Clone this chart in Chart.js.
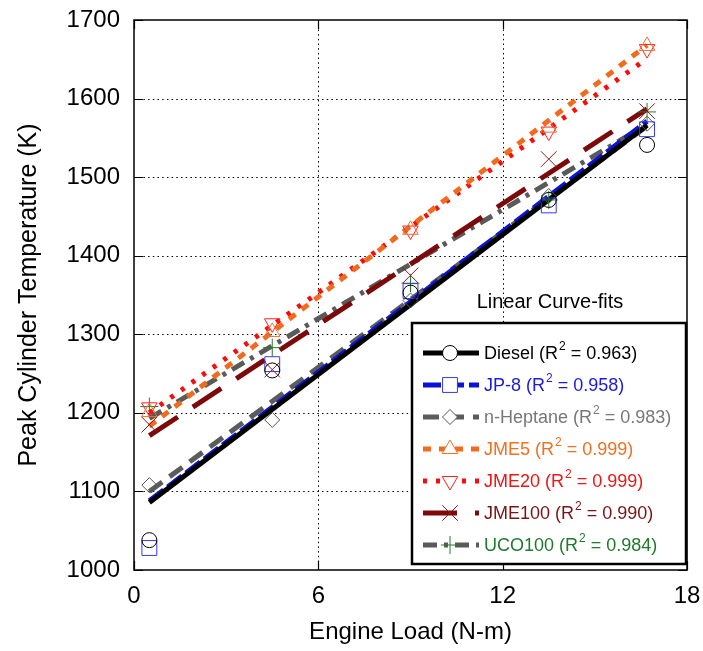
<!DOCTYPE html>
<html>
<head>
<meta charset="utf-8">
<script src="https://cdn.jsdelivr.net/npm/chart.js@4.4.1/dist/chart.umd.min.js"></script>
<style>
  html, body { margin: 0; padding: 0; background: #fff; }
  #wrap { width: 703px; height: 651px; }
</style>
</head>
<body>
<div id="wrap"><canvas id="tempChart" width="703" height="651"></canvas></div>
<script>
// engine load (N-m) where each fuel was measured
const loads = [0.5, 4.5, 9, 13.5, 16.7];

// peak cylinder temperature (K) per fuel
const diesel  = [1038, 1254, 1353, 1471, 1541];
const jp8     = [1028, 1262, 1355, 1464, 1561];
const heptane = [1108, 1191, 1343, 1476, 1568];
const jme5    = [1201, 1303, 1433, 1563, 1667];
const jme20   = [1207, 1314, 1432, 1558, 1663];
const jme100  = [1185, 1255, 1375, 1523, 1584];
const uco100  = [1208, 1283, 1365, 1471, 1583];

// linear curve-fit end points
const fitLoads   = [0.5, 16.7];
const dieselFit  = [1086, 1566];
const jp8Fit     = [1088, 1571];
const heptaneFit = [1100, 1565];
const jme5Fit    = [1183, 1668];
const jme20Fit   = [1200, 1651];
const jme100Fit  = [1171, 1587];
const uco100Fit  = [1193, 1567];

const fuelNames = ["Diesel", "JP-8", "n-Heptane", "JME5", "JME20", "JME100", "UCO100"];
const rSquared  = ["0.963", "0.958", "0.983", "0.999", "0.999", "0.990", "0.984"];

const yTicks = [1000, 1100, 1200, 1300, 1400, 1500, 1600, 1700];
const xTicks = [0, 6, 12, 18];

const FONT = "'Liberation Sans', Arial, Helvetica, sans-serif";

const series = [
    { pts: diesel,  fit: dieselFit,  line: "#000000", text: "#000000", mark: "#000000", style: "circle",   radius: 7.5, rot: 0,   dash: [],             width: 5 },
    { pts: jp8,     fit: jp8Fit,     line: "#0a14d8", text: "#1a1ad8", mark: "#3a3ae0", style: "rect",     radius: 10.5, rot: 0,  dash: [18, 5],        width: 5 },
    { pts: heptane, fit: heptaneFit, line: "#5c5c5c", text: "#777777", mark: "#555555", style: "rectRot",  radius: 7.5, rot: 0,   dash: [16, 9],        width: 5 },
    { pts: jme5,    fit: jme5Fit,    line: "#f26b1d", text: "#f07020", mark: "#f07030", style: "triangle", radius: 9,   rot: 0,   dash: [8, 8],         width: 5 },
    { pts: jme20,   fit: jme20Fit,   line: "#ff0a0a", text: "#ee1515", mark: "#ff2020", style: "triangle", radius: 9,   rot: 180, dash: [4, 9],         width: 5 },
    { pts: jme100,  fit: jme100Fit,  line: "#7c0a0a", text: "#7a1414", mark: "#8b1a1a", style: "crossRot", radius: 11,  rot: 0,   dash: [34, 18],       width: 5 },
    { pts: uco100,  fit: uco100Fit,  line: "#5a5a5a", text: "#1f7a2e", mark: "#2a7a2a", style: "cross",    radius: 9,   rot: 0,   dash: [14, 7, 4, 7],  width: 5 }
];

const datasets = [];
series.forEach((s, i) => {
    datasets.push({
        label: fuelNames[i] + " fit",
        data: fitLoads.map((x, k) => ({ x, y: s.fit[k] })),
        showLine: true,
        borderColor: s.line,
        borderWidth: s.width,
        borderDash: s.dash,
        borderCapStyle: "butt",
        pointRadius: 0,
        fill: false,
        order: 2
    });
});
series.forEach((s, i) => {
    datasets.push({
        label: fuelNames[i],
        data: loads.map((x, k) => ({ x, y: s.pts[k] })),
        showLine: false,
        pointStyle: s.style,
        pointRadius: s.radius,
        pointRotation: s.rot,
        pointBorderColor: s.mark,
        pointBackgroundColor: "rgba(0,0,0,0)",
        pointBorderWidth: 1,
        order: 1
    });
});

// dotted grid drawn under the data
const dottedGrid = {
    id: "dottedGrid",
    beforeDatasetsDraw(chart) {
        const { ctx, chartArea: a, scales } = chart;
        ctx.save();
        ctx.strokeStyle = "#000";
        ctx.lineWidth = 1;
        ctx.setLineDash([1.5, 3.2]);
        ctx.beginPath();
        yTicks.slice(1, -1).forEach(v => {
            const y = Math.round(scales.y.getPixelForValue(v)) + 0.5;
            ctx.moveTo(a.left, y); ctx.lineTo(a.right, y);
        });
        xTicks.slice(1, -1).forEach(v => {
            const x = Math.round(scales.x.getPixelForValue(v)) + 0.5;
            ctx.moveTo(x, a.top); ctx.lineTo(x, a.bottom);
        });
        ctx.stroke();
        ctx.restore();
    }
};

// frame around the plot area, with short inward tick marks on all four sides
const frame = {
    id: "frame",
    afterDraw(chart) {
        const { ctx, chartArea: a, scales } = chart;
        ctx.save();
        ctx.strokeStyle = "#000";
        ctx.lineWidth = 1.5;
        ctx.strokeRect(a.left, a.top, a.right - a.left, a.bottom - a.top);
        ctx.lineWidth = 1.2;
        ctx.beginPath();
        yTicks.forEach(v => {
            const y = Math.round(scales.y.getPixelForValue(v)) + 0.5;
            ctx.moveTo(a.left, y); ctx.lineTo(a.left + 9, y);
            ctx.moveTo(a.right, y); ctx.lineTo(a.right - 9, y);
        });
        xTicks.forEach(v => {
            const x = Math.round(scales.x.getPixelForValue(v)) + 0.5;
            ctx.moveTo(x, a.bottom); ctx.lineTo(x, a.bottom - 9);
            ctx.moveTo(x, a.top); ctx.lineTo(x, a.top + 9);
        });
        ctx.stroke();
        ctx.restore();
    }
};

// boxed legend with R² superscripts
const fitLegend = {
    id: "fitLegend",
    afterDraw(chart) {
        const ctx = chart.ctx;
        const left = 412, top = 323, right = 686, bottom = 564;
        ctx.save();
        ctx.fillStyle = "#000";
        ctx.font = "20px " + FONT;
        ctx.textAlign = "center";
        ctx.textBaseline = "middle";
        ctx.fillText("Linear Curve-fits", 550, 302);

        ctx.fillStyle = "#fff";
        ctx.fillRect(left, top, right - left, bottom - top);
        ctx.strokeStyle = "#000";
        ctx.lineWidth = 2.5;
        ctx.strokeRect(left, top, right - left, bottom - top);

        series.forEach((s, i) => {
            const y = 353 + i * 32;
            ctx.save();
            ctx.strokeStyle = s.line;
            ctx.lineWidth = s.width;
            ctx.setLineDash(s.dash);
            ctx.beginPath();
            ctx.moveTo(423, y);
            ctx.lineTo(479, y);
            ctx.stroke();
            ctx.restore();

            ctx.save();
            ctx.strokeStyle = s.mark;
            ctx.fillStyle = "#fff";
            ctx.lineWidth = 1;
            Chart.helpers.drawPoint(ctx, {
                pointStyle: s.style,
                radius: s.radius,
                rotation: s.rot,
                borderWidth: 1
            }, 450, y);
            ctx.restore();

            ctx.fillStyle = s.text;
            ctx.textAlign = "left";
            ctx.textBaseline = "middle";
            ctx.font = "18px " + FONT;
            let x = 484;
            const a = fuelNames[i] + " (R";
            ctx.fillText(a, x, y + 1);
            x += ctx.measureText(a).width + 1;
            ctx.font = "12px " + FONT;
            ctx.fillText("2", x, y - 6);
            x += ctx.measureText("2").width;
            ctx.font = "18px " + FONT;
            ctx.fillText(" = " + rSquared[i] + ")", x, y + 1);
        });
        ctx.restore();
    }
};

new Chart(document.getElementById("tempChart"), {
    type: "scatter",
    data: { datasets },
    options: {
        responsive: false,
        animation: false,
        layout: { padding: { left: 0, right: 16, top: 20, bottom: 0 } },
        plugins: {
            legend: { display: false },
            tooltip: { enabled: false }
        },
        scales: {
            x: {
                type: "linear",
                min: 0,
                max: 18,
                afterBuildTicks: scale => { scale.ticks = xTicks.map(v => ({ value: v })); },
                afterFit: scale => {
                    scale.height = 81;
                    scale.paddingLeft = 0;
                    scale.paddingRight = 0;
                },
                grid: { display: false, drawTicks: false },
                border: { display: false },
                ticks: {
                    color: "#000",
                    padding: 12,
                    font: { family: FONT, size: 24 },
                    callback: v => String(v)
                },
                title: {
                    display: true,
                    text: "Engine Load (N-m)",
                    color: "#000",
                    padding: { top: 6 },
                    font: { family: FONT, size: 24 }
                }
            },
            y: {
                type: "linear",
                min: 1000,
                max: 1700,
                afterBuildTicks: scale => { scale.ticks = yTicks.map(v => ({ value: v })); },
                afterFit: scale => {
                    scale.width = 134;
                    scale.paddingTop = 0;
                    scale.paddingBottom = 0;
                },
                grid: { display: false, drawTicks: false },
                border: { display: false },
                ticks: {
                    color: "#000",
                    padding: 14,
                    font: { family: FONT, size: 24 },
                    callback: v => String(v)
                },
                title: {
                    display: true,
                    text: "Peak Cylinder Temperature (K)",
                    color: "#000",
                    padding: { top: 14, bottom: 2 },
                    font: { family: FONT, size: 25 }
                }
            }
        }
    },
    plugins: [dottedGrid, frame, fitLegend]
});
</script>
</body>
</html>
